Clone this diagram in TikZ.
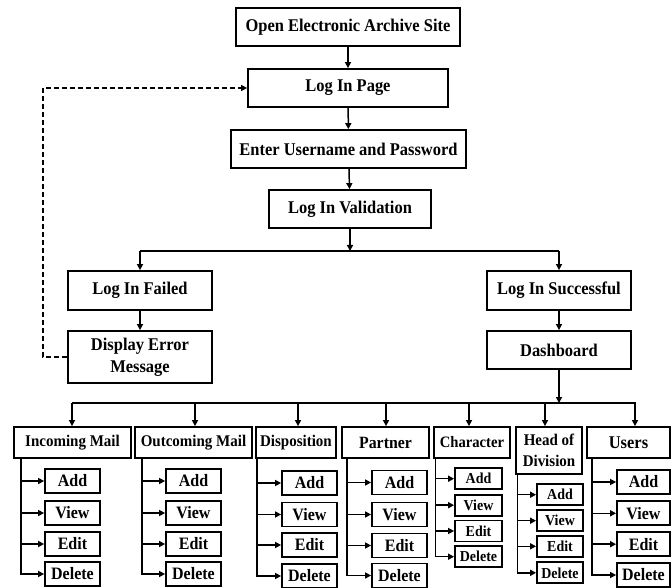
\documentclass[tikz,border=0pt]{standalone}
\usepackage{fontspec}
\setmainfont[FakeStretch=0.92]{Liberation Serif}
\usetikzlibrary{arrows.meta}
\begin{document}
\begin{tikzpicture}[x=1pt,y=-1pt,
  box/.style={draw,line width=1.8pt,inner sep=0pt,align=center,font=\bfseries\fontsize{17.9}{22}\selectfont},
  cat/.style={box,minimum height=31,font=\bfseries\fontsize{16.3}{21}\selectfont},
  sub/.style={box,minimum height=24,font=\bfseries\fontsize{17.4}{18}\selectfont},
  subs/.style={box,minimum height=21,font=\bfseries\fontsize{15.2}{16}\selectfont},
  arr/.style={line width=1.5pt,-{Triangle[length=6pt,width=6pt]}},
  ln/.style={line width=1.5pt}]
\useasboundingbox (0,0) rectangle (672,588);
% main flow
\node[box,minimum width=224,minimum height=38] (open) at (348,27) {Open Electronic Archive Site};
\node[box,minimum width=200,minimum height=38] (page) at (348,88) {Log In Page};
\node[box,minimum width=235,minimum height=38] (enter) at (348.5,149) {Enter Username and Password};
\node[box,minimum width=162,minimum height=38] (valid) at (350,209) {Log In Validation};
\node[box,minimum width=144,minimum height=39] (failed) at (140,290.5) {Log In Failed};
\node[box,minimum width=144,minimum height=39] (success) at (559,290.5) {Log In Successful};
\node[box,minimum width=144,minimum height=52] (error) at (140,357) {Display Error\\Message};
\node[box,minimum width=144,minimum height=38] (dash) at (559,350) {Dashboard};
\draw[arr] (open) -- (page);
\draw[arr] (page) -- (enter);
\draw[arr] (enter) -- (valid);
\coordinate (bj) at (350,251);
\draw[arr] (valid) -- (bj);
\draw[ln] (failed.north |- bj) -- (success.north |- bj);
\draw[arr] (failed.north |- bj) -- (failed);
\draw[arr] (success.north |- bj) -- (success);
\draw[arr] (failed) -- (error);
\draw[arr] (success) -- (dash);
\draw[arr,dash pattern=on 5pt off 3pt] (error.west) -- ++(-24,0) |- (page.west);
% categories
\node[cat,minimum width=117] (inc) at (72.5,442.5) {Incoming Mail};
\node[cat,minimum width=117] (out) at (193.5,442.5) {Outcoming Mail};
\node[cat,minimum width=80] (disp) at (296,442.5) {Disposition};
\node[cat,minimum width=87,font=\bfseries\fontsize{17.2}{18}\selectfont] (partner) at (385.5,442.5) {Partner};
\node[cat,minimum width=76,font=\bfseries\fontsize{15.9}{18}\selectfont] (char) at (472,442.5) {Character};
\node[cat,minimum width=66,minimum height=47] (head) at (549,450.5) {Head of\\Division};
\node[cat,minimum width=83,font=\bfseries\fontsize{17.9}{18}\selectfont] (users) at (628.5,442.5) {Users};
% bus
\coordinate (bL) at (72,403);
\coordinate (bR) at (636,403);
\draw[arr] (dash) -- (dash |- bL);
\draw[ln] (bL) -- (bR);
\coordinate (t1) at (72,403);
\coordinate (t2) at (195,403);
\coordinate (t3) at (298,403);
\coordinate (t4) at (386,403);
\coordinate (t5) at (469,403);
\coordinate (t6) at (545,403);
\coordinate (t7) at (635,403);
\draw[arr] (t1) -- (t1 |- inc.north);
\draw[arr] (t2) -- (t2 |- out.north);
\draw[arr] (t3) -- (t3 |- disp.north);
\draw[arr] (t4) -- (t4 |- partner.north);
\draw[arr] (t5) -- (t5 |- char.north);
\draw[arr] (t6) -- (t6 |- head.north);
\draw[arr] (t7) -- (t7 |- users.north);
% sub items
\coordinate (incS) at (21,458);
\coordinate (outS) at (142,458);
\coordinate (dispS) at (257,458);
\coordinate (partnerS) at (347,458);
\coordinate (charS) at (435.5,458);
\coordinate (headS) at (517.5,474);
\coordinate (usersS) at (592,458);
\foreach \n/\y in {Add/481,View/513,Edit/544,Delete/574}{
  \node[sub,minimum width=55] (inc\n) at (72.5,\y) {\n};
  \node[sub,minimum width=55] (out\n) at (193.5,\y) {\n};
}
\foreach \n/\y in {Add/483,View/514.5,Edit/545,Delete/576}
  \node[sub,minimum width=55] (disp\n) at (309.5,\y) {\n};
\foreach \n/\y in {Add/482.5,View/514.5,Edit/545.5,Delete/575.5}
  \node[sub,minimum width=55] (partner\n) at (399.5,\y) {\n};
\foreach \n/\y in {Add/478.7,View/505.2,Edit/531,Delete/556.7}
  \node[subs,minimum width=47] (char\n) at (478.5,\y) {\n};
\foreach \n/\y in {Add/494.7,View/520.7,Edit/546.3,Delete/572.8}
  \node[subs,minimum width=46] (head\n) at (560,\y) {\n};
\foreach \n/\y in {Add/482,View/513.3,Edit/544.2,Delete/575}
  \node[sub,minimum width=53] (users\n) at (643.5,\y) {\n};
\foreach \c in {inc,out,disp,partner,char,head,users}
  \foreach \n in {Add,View,Edit,Delete}
    \draw[arr] (\c S) |- (\c\n);
\end{tikzpicture}
\end{document}
